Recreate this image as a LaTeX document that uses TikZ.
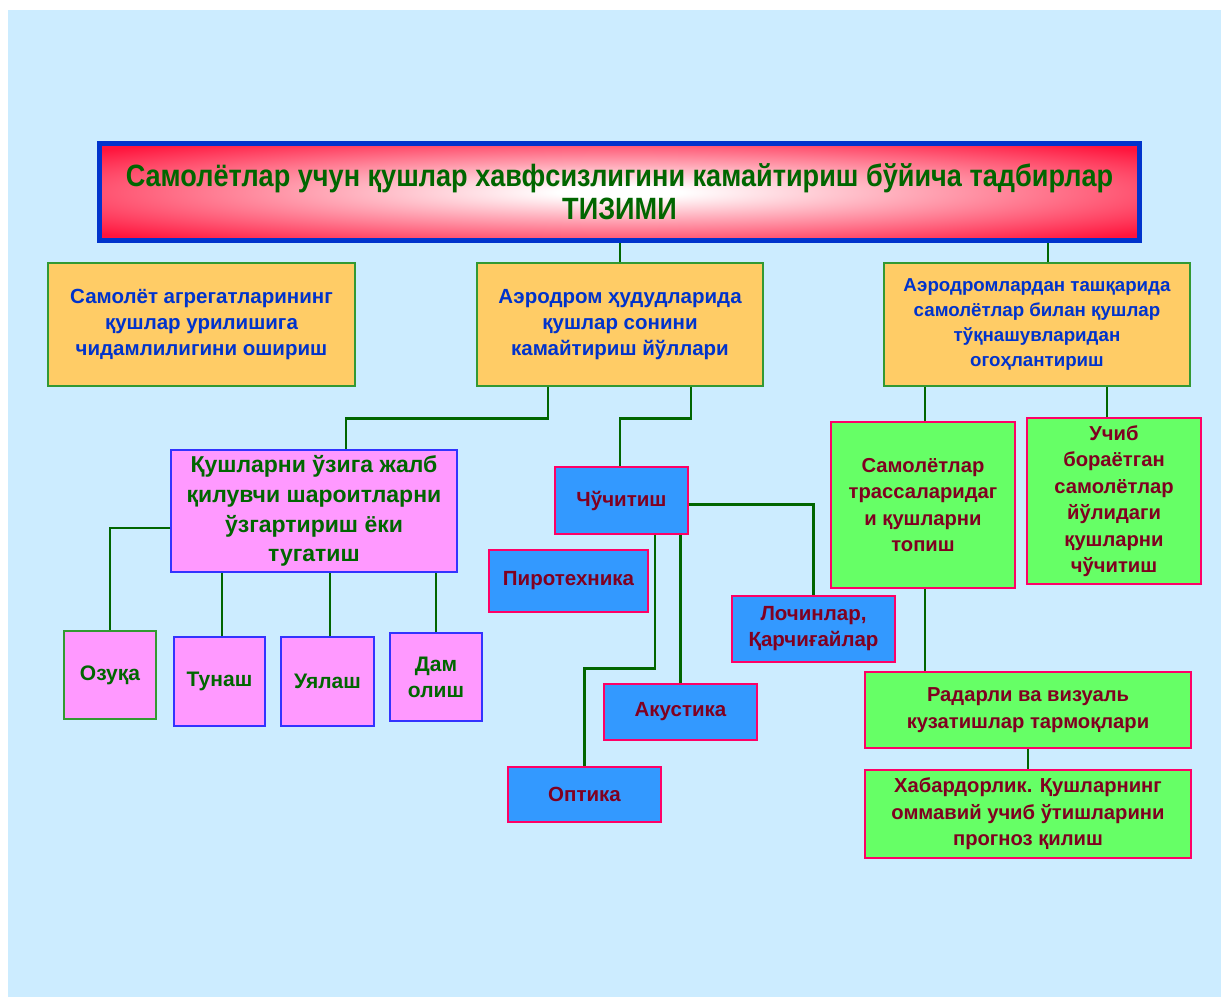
\documentclass[tikz,border=0pt]{standalone}
\usepackage{fontspec}
\setmainfont{Liberation Sans}
\newfontfamily\titlefont[FakeStretch=0.88]{Liberation Sans}
\definecolor{bgblue}{HTML}{CCECFF}
\definecolor{orfill}{HTML}{FFCC66}
\definecolor{orborder}{HTML}{339933}
\definecolor{ortext}{HTML}{0033CC}
\definecolor{pkfill}{HTML}{FF99FF}
\definecolor{pkborder}{HTML}{3333FF}
\definecolor{dgreen}{HTML}{006600}
\definecolor{blfill}{HTML}{3399FF}
\definecolor{crimson}{HTML}{FF0066}
\definecolor{dred}{HTML}{800020}
\definecolor{grfill}{HTML}{66FF66}
\definecolor{titlered}{RGB}{255,20,60}
\definecolor{titleblue}{HTML}{0033CC}
\pgfdeclareradialshading{titleshade}{\pgfpoint{0bp}{0bp}}{color(0bp)=(white);color(3bp)=(white);color(33bp)=(titlered);color(75bp)=(titlered)}
\tikzset{
  box/.style={rectangle, inner sep=0pt, align=center, font=\bfseries\fontsize{20.5}{26}\selectfont},
  orbox/.style={box, fill=orfill, draw=orborder, line width=1.2pt, text=ortext, font=\bfseries\fontsize{20.5}{26}\selectfont},
  pkbox/.style={box, fill=pkfill, draw=pkborder, line width=1.2pt, text=dgreen, font=\bfseries\fontsize{21}{29}\selectfont},
  blbox/.style={box, fill=blfill, draw=crimson, line width=1.2pt, text=dred},
  grbox/.style={box, fill=grfill, draw=crimson, line width=1.2pt, text=dred, font=\bfseries\fontsize{20.2}{26.5}\selectfont},
  conn/.style={draw=dgreen, line width=2.4pt}
}
\begin{document}
\begin{tikzpicture}[x=1pt, y=-1pt]
\useasboundingbox (0,0) rectangle (1221,997);
\fill[bgblue] (8,10) rectangle (1221,997);
% title
\node[rectangle, inner sep=0pt, minimum width=1040pt, minimum height=97pt, shading=titleshade, draw=titleblue, line width=5pt, align=center, text=dgreen, font=\bfseries\titlefont\fontsize{30.8}{33}\selectfont] (title) at (619.5,192) {Самолётлар учун қушлар хавфсизлигини камайтириш бўйича тадбирлар\\ТИЗИМИ};
% orange row
\node[orbox, minimum width=307pt, minimum height=123pt] (o1) at (201.5,324.5) {Самолёт агрегатларининг\\қушлар урилишига\\чидамлилигини ошириш};
\node[orbox, minimum width=286pt, minimum height=123pt] (o2) at (620,324.5) {Аэродром ҳудудларида\\қушлар сонини\\камайтириш йўллари};
\node[orbox, minimum width=306pt, minimum height=123pt, font=\bfseries\fontsize{18.7}{24.7}\selectfont] (o3) at (1037,324.5) {Аэродромлардан ташқарида\\самолётлар билан қушлар\\тўқнашувларидан\\огоҳлантириш};
% pink
\node[pkbox, minimum width=286pt, minimum height=122pt, font=\bfseries\fontsize{23}{29.7}\selectfont] (pbig) at (314,511) {Қушларни ўзига жалб\\қилувчи шароитларни\\ўзгартириш ёки\\тугатиш};
\node[pkbox, draw=orborder, minimum width=92pt, minimum height=88pt] (p1) at (110,675) {Озуқа};
\node[pkbox, minimum width=91pt, minimum height=89pt] (p2) at (219.5,681.5) {Тунаш};
\node[pkbox, minimum width=93pt, minimum height=89pt] (p3) at (327.5,681.5) {Уялаш};
\node[pkbox, minimum width=92pt, minimum height=88pt, font=\bfseries\fontsize{21}{26}\selectfont] (p4) at (436,677) {Дам\\олиш};
% blue
\node[blbox, minimum width=133pt, minimum height=67pt] (b1) at (621.5,500.5) {Чўчитиш};
\node[blbox, minimum width=159pt, minimum height=62pt] (b2) at (568.5,581) {Пиротехника};
\node[blbox, minimum width=163pt, minimum height=66pt] (b3) at (813.5,629) {Лочинлар,\\Қарчиғайлар};
\node[blbox, minimum width=153pt, minimum height=56pt] (b4) at (680.5,712) {Акустика};
\node[blbox, minimum width=153pt, minimum height=55pt] (b5) at (584.5,794.5) {Оптика};
% green
\node[grbox, minimum width=184pt, minimum height=166pt] (g1) at (923,505) {Самолётлар\\трассаларидаг\\и қушларни\\топиш};
\node[grbox, minimum width=174pt, minimum height=166pt] (g2) at (1114,501) {Учиб\\бораётган\\самолётлар\\йўлидаги\\қушларни\\чўчитиш};
\node[grbox, minimum width=326pt, minimum height=76pt] (g3) at (1028,710) {Радарли ва визуаль\\кузатишлар тармоқлари};
\node[grbox, minimum width=326pt, minimum height=88pt] (g4) at (1028,814) {Хабардорлик. Қушларнинг\\оммавий учиб ўтишларини\\прогноз қилиш};
% connectors
\draw[conn] (o2.north) -- (o2.north |- title.south);
\draw[conn] ([xshift=11]o3.north) -- ([xshift=11]o3.north |- title.south);
\draw[conn] ([xshift=-72]o2.south) -- ++(0,32) -| ([xshift=32]pbig.north);
\draw[conn] ([xshift=71]o2.south) -- ++(0,32) -| ([xshift=-1.5]b1.north);
\draw[conn] ([yshift=-17]pbig.west) -| (p1.north);
\draw[conn] ([xshift=2.5]p2.north) -- ([xshift=2.5]p2.north |- pbig.south);
\draw[conn] ([xshift=2.5]p3.north) -- ([xshift=2.5]p3.north |- pbig.south);
\draw[conn] (p4.north) -- (p4.north |- pbig.south);
\draw[conn] ([yshift=-4]b1.east) -| (b3.north);
\draw[conn] ([xshift=33.5]b1.south) -- ++(0,134) -| (b5.north);
\draw[conn] (b4.north) -- (b4.north |- b1.south);
\draw[conn] ([xshift=2]g1.north) -- ([xshift=2]g1.north |- o3.south);
\draw[conn] ([xshift=-7]g2.north) -- ([xshift=-7]g2.north |- o3.south);
\draw[conn] ([xshift=2]g1.south) -- ([xshift=2]g1.south |- g3.north);
\draw[conn] (g3.south) -- (g4.north);
\end{tikzpicture}
\end{document}
